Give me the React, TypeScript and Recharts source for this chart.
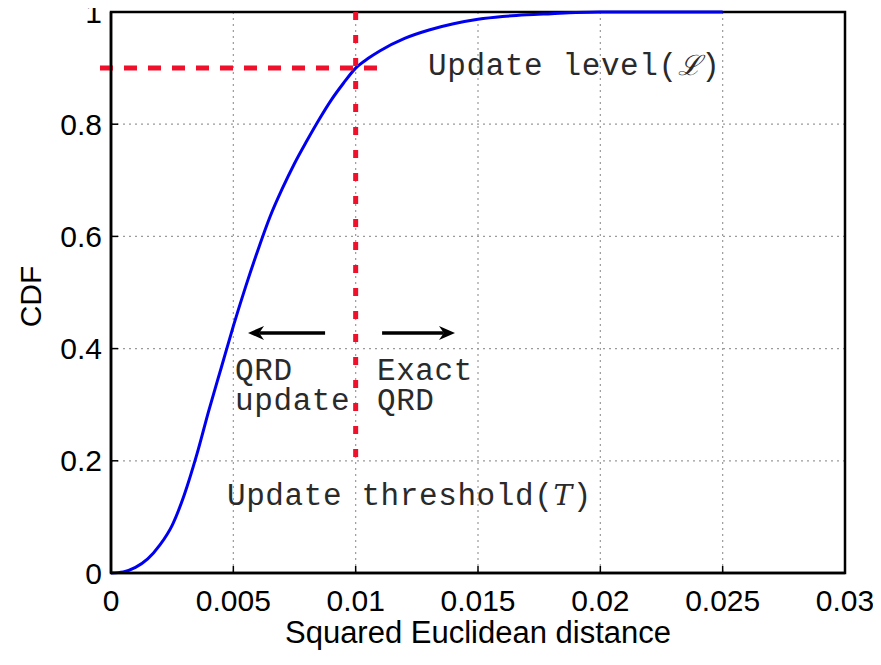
import React from "react";
import {
  LineChart,
  Line,
  XAxis,
  YAxis,
  CartesianGrid,
  ReferenceLine,
  ReferenceArea,
  ReferenceDot,
} from "recharts";

// CDF curve
const distance = [
  0, 0.0005, 0.001, 0.0015, 0.002, 0.0025, 0.003, 0.0035, 0.004, 0.0045, 0.005,
  0.0055, 0.006, 0.0065, 0.007, 0.0075, 0.008, 0.0085, 0.009, 0.0095, 0.01,
  0.0105, 0.011, 0.012, 0.013, 0.014, 0.015, 0.016, 0.017, 0.018, 0.019, 0.02, 0.022, 0.025,
];
const cdf = [
  0, 0.002, 0.01, 0.025, 0.05, 0.085, 0.14, 0.21, 0.29, 0.365, 0.44,
  0.51, 0.575, 0.635, 0.685, 0.73, 0.77, 0.808, 0.843, 0.873, 0.9,
  0.917, 0.931, 0.953, 0.968, 0.979, 0.987, 0.992, 0.995, 0.997, 0.999, 1, 1, 1,
];

const xTicks = [0, 0.005, 0.01, 0.015, 0.02, 0.025, 0.03];
const xTickLabels = ["0", "0.005", "0.01", "0.015", "0.02", "0.025", "0.03"];
const yTicks = [0, 0.2, 0.4, 0.6, 0.8, 1];
const yTickLabels = ["0", "0.2", "0.4", "0.6", "0.8", "1"];

// threshold / level
const threshold = 0.01;
const level = 0.9;
const levelLineStart = -0.00045;
const levelLineEnd = 0.0111;
const thresholdLineBottom = 0.2;

// arrows: [from, to] in distance units, at arrowY
const arrowY = 0.428;
const leftArrow = [0.00875, 0.0056];
const rightArrow = [0.01108, 0.01406];

// annotation anchors (x, baseline y) in data units
const notes = [
  { id: "level", x: 0.01296, y: 0.888, text: "Update level(", sym: "ℒ" },
  { id: "qrd1", x: 0.00507, y: 0.344, text: "QRD", sym: "" },
  { id: "upd", x: 0.00507, y: 0.2906, text: "update", sym: "" },
  { id: "exact", x: 0.01087, y: 0.344, text: "Exact", sym: "" },
  { id: "qrd2", x: 0.01087, y: 0.2906, text: "QRD", sym: "" },
  { id: "thr", x: 0.00474, y: 0.1212, text: "Update threshold(", sym: "T" },
];

const chartData = distance.map((d, i) => ({ d, cdf: cdf[i] }));

const SANS = "'Liberation Sans', Arial, Helvetica, sans-serif";
const MONO = "'Liberation Mono', 'Courier New', monospace";
const RED = "#f0102c";

const Arrow = (props: any) => {
  const { x1, y1, x2, y2 } = props;
  const dir = x2 > x1 ? 1 : -1;
  const head = 16;
  const half = 7;
  return (
    <g>
      <line x1={x1} y1={y1} x2={x2 - dir * head * 0.7} y2={y2} stroke="#000" strokeWidth={3.5} />
      <polygon
        points={`${x2},${y2} ${x2 - dir * head},${y2 - half} ${x2 - dir * head * 0.7},${y2} ${x2 - dir * head},${y2 + half}`}
        fill="#000"
      />
    </g>
  );
};

const noteShape = (n: (typeof notes)[number]) => (p: any) =>
  (
    <text x={p.cx} y={p.cy} fontFamily={MONO} fontSize={31} letterSpacing={0.6} fill="#2a2a2a">
      {n.text}
      {n.sym && (
        <>
          <tspan fontFamily="'DejaVu Serif', serif" fontStyle="italic" fontSize={28}>
            {n.sym}
          </tspan>
          <tspan>)</tspan>
        </>
      )}
    </text>
  );

export default function App() {
  return (
    <div style={{ marginTop: -8 }}>
      <LineChart
        width={873}
        height={657}
        data={chartData}
        margin={{ top: 12, right: 36, bottom: 0, left: 0 }}
        style={{ background: "#fff" }}
      >
        <CartesianGrid stroke="#9a9a9a" strokeDasharray="2 4" strokeWidth={1.2} />
        <XAxis
          dataKey="d"
          type="number"
          domain={[0, 0.03]}
          ticks={xTicks}
          tickFormatter={(v: number) => xTickLabels[xTicks.indexOf(v)] ?? String(v)}
          height={84}
          tickSize={-7}
          tickMargin={24}
          axisLine={{ stroke: "#000", strokeWidth: 2.5 }}
          tickLine={{ stroke: "#000", strokeWidth: 1.5 }}
          tick={{ fill: "#000", fontSize: 30, fontFamily: SANS }}
          interval={0}
          label={{
            content: ({ viewBox }: any) => (
              <text
                x={viewBox.x + viewBox.width / 2}
                y={viewBox.y + 70}
                textAnchor="middle"
                fontFamily={SANS}
                fontSize={31}
                fill="#000"
              >
                Squared Euclidean distance
              </text>
            ),
          }}
        />
        <YAxis
          type="number"
          domain={[0, 1]}
          ticks={yTicks}
          tickFormatter={(v: number) => yTickLabels[yTicks.indexOf(v)] ?? String(v)}
          width={103}
          tickSize={-7}
          tickMargin={16}
          axisLine={{ stroke: "#000", strokeWidth: 2.5 }}
          tickLine={{ stroke: "#000", strokeWidth: 1.5 }}
          tick={{ fill: "#000", fontSize: 30, fontFamily: SANS }}
          interval={0}
          label={{
            content: ({ viewBox }: any) => {
              const cx = viewBox.x + 22;
              const cy = viewBox.y + viewBox.height / 2 + 4;
              return (
                <text
                  x={cx}
                  y={cy}
                  transform={`rotate(-90 ${cx} ${cy})`}
                  textAnchor="middle"
                  dominantBaseline="central"
                  fontFamily={SANS}
                  fontSize={30}
                  fill="#000"
                >
                  CDF
                </text>
              );
            },
          }}
        />
        <ReferenceArea
          x1={0}
          x2={0.03}
          y1={0}
          y2={1}
          fill="none"
          fillOpacity={0}
          stroke="#000"
          strokeWidth={2.5}
          strokeOpacity={1}
        />
        <Line
          type="monotone"
          dataKey="cdf"
          stroke="#0000f0"
          strokeWidth={3}
          dot={false}
          isAnimationActive={false}
        />
        <ReferenceLine
          segment={[
            { x: levelLineStart, y: level },
            { x: levelLineEnd, y: level },
          ]}
          ifOverflow="visible"
          stroke={RED}
          strokeWidth={5}
          strokeDasharray="13 11"
        />
        <ReferenceLine
          segment={[
            { x: threshold, y: 1 },
            { x: threshold, y: thresholdLineBottom },
          ]}
          stroke={RED}
          strokeWidth={5}
          strokeDasharray="8 15"
        />
        <ReferenceLine
          segment={[
            { x: leftArrow[0], y: arrowY },
            { x: leftArrow[1], y: arrowY },
          ]}
          shape={Arrow}
        />
        <ReferenceLine
          segment={[
            { x: rightArrow[0], y: arrowY },
            { x: rightArrow[1], y: arrowY },
          ]}
          shape={Arrow}
        />
        {notes.map((n) => (
          <ReferenceDot key={n.id} x={n.x} y={n.y} r={1} shape={noteShape(n)} />
        ))}
      </LineChart>
    </div>
  );
}
